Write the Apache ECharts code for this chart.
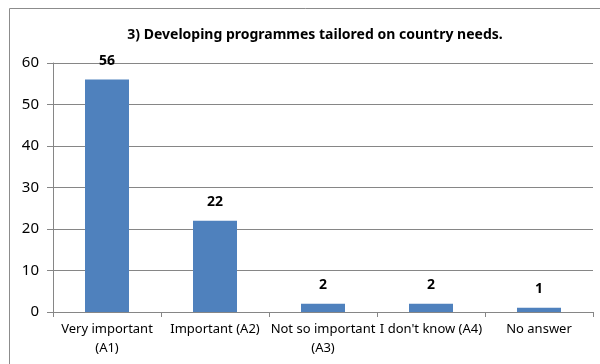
<!DOCTYPE html>
<html>
<head>
<meta charset="utf-8">
<style>html,body{margin:0;padding:0;background:#fff}#c{width:600px;height:364px}</style>
<script src="https://cdn.jsdelivr.net/npm/echarts@6/dist/echarts.min.js"></script>
</head>
<body>
<div id="c"></div>
<script>
const categories = ['Very important\n(A1)', 'Important (A2)', 'Not so important\n(A3)', "I don't know (A4)", 'No answer'];
const values = [56, 22, 2, 2, 1];
const yTicks = [0, 10, 20, 30, 40, 50, 60];

const font = '"Noto Sans", sans-serif';
const chart = echarts.init(document.getElementById('c'));
chart.setOption({
  animation: false,
  title: {
    text: '3) Developing programmes tailored on country needs.',
    left: 310, top: 23, textAlign: 'center',
    textStyle: { fontFamily: font, fontSize: 14, fontWeight: 'bold', color: '#000' }
  },
  graphic: [{
    type: 'rect', shape: { x: 9.5, y: 8.5, width: 600, height: 400 },
    style: { fill: 'none', stroke: '#8c8c8c', lineWidth: 1 }, silent: true
  }],
  grid: { left: 53, right: 7, top: 63, bottom: 52, containLabel: false },
  xAxis: {
    type: 'category', data: categories,
    axisLine: { lineStyle: { color: '#868686' } },
    axisTick: { show: true, length: 5, lineStyle: { color: '#868686' } },
    axisLabel: { fontFamily: font, fontSize: 13, color: '#000', lineHeight: 19, margin: 8, interval: 0 }
  },
  yAxis: {
    type: 'value', min: yTicks[0], max: yTicks[yTicks.length - 1], interval: 10,
    axisLine: { show: true, lineStyle: { color: '#868686' } },
    axisTick: { show: true, length: 6, lineStyle: { color: '#868686' } },
    splitLine: { lineStyle: { color: '#868686' } },
    axisLabel: { fontFamily: font, fontSize: 15, color: '#000', margin: 14 }
  },
  series: [{
    type: 'bar', data: values, barWidth: 44,
    itemStyle: { color: '#4f81bd' },
    label: { show: true, position: 'top', distance: 12, fontFamily: font, fontSize: 14, fontWeight: 'bold', color: '#000' }
  }]
});
</script>
</body>
</html>
